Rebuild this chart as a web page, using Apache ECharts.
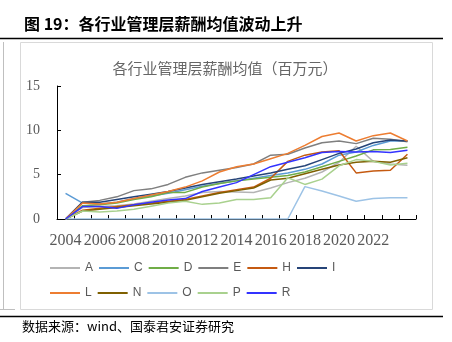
<!DOCTYPE html>
<html>
<head>
<meta charset="utf-8">
<script src="https://cdn.jsdelivr.net/npm/echarts@6/dist/echarts.min.js"></script>
<style>
html,body{margin:0;padding:0;background:#fff;}
#c{width:452px;height:342px;}
</style>
</head>
<body>
<div id="c"></div>
<script>
var years = ['2004','2005','2006','2007','2008','2009','2010','2011','2012','2013','2014','2015','2016','2017','2018','2019','2020','2021','2022','2023','2024'];
var yTicks = [0, 5, 10, 15];
var A = [0,1.3,1.4,1.5,1.7,2.0,2.3,2.6,3.0,3.1,3.05,3.0,3.5,4.1,4.6,5.3,6.4,8.2,6.5,6.2,6.05];
var C = [2.9,1.8,1.7,1.9,2.3,2.6,2.9,3.3,3.7,4.0,4.3,4.6,4.9,5.2,5.6,6.2,7.2,7.55,8.3,8.8,8.8];
var D = [0,1.5,1.6,1.8,2.2,2.5,3.0,3.0,3.6,4.0,4.3,4.5,4.7,4.9,5.3,5.9,6.5,7.1,7.8,7.85,8.1];
var E = [0,1.9,2.1,2.5,3.2,3.4,3.9,4.7,5.2,5.5,5.8,6.2,7.2,7.3,8.0,8.6,8.8,8.5,9.1,9.0,8.7];
var H = [0,1.0,1.2,1.4,1.6,1.8,2.0,2.2,2.6,3.0,3.3,3.6,4.6,6.5,7.2,7.55,7.7,5.2,5.4,5.5,7.3];
var I = [0,1.9,1.9,2.2,2.5,2.8,3.1,3.5,3.9,4.2,4.5,4.85,5.2,5.6,6.0,6.7,7.4,7.9,8.6,8.9,8.8];
var L = [0,1.8,1.7,1.9,2.3,2.7,3.1,3.6,4.3,5.3,5.9,6.2,6.8,7.4,8.3,9.3,9.7,8.8,9.4,9.7,8.8];
var N = [0,0.9,1.1,1.3,1.5,1.7,1.9,2.1,2.5,2.9,3.2,3.5,4.4,4.6,5.1,5.6,6.1,6.4,6.5,6.4,6.9];
var O = [0,0,0,0,0,0,0,0,0,0,0,0,0,0,3.65,3.15,2.6,2.0,2.3,2.4,2.4];
var P = [0,0.9,0.8,0.9,1.1,1.45,1.8,2.0,1.65,1.8,2.2,2.2,2.4,4.65,3.9,4.5,6.0,6.7,6.5,6.1,6.3];
var R = [0,1.4,1.4,1.2,1.6,1.9,2.15,2.3,3.1,3.6,4.1,5.0,5.9,6.4,6.9,7.5,7.6,7.55,7.6,7.5,7.75];

var names = ['A','C','D','E','H','I','L','N','O','P','R'];
var values = [A,C,D,E,H,I,L,N,O,P,R];
var colors = ['#B4B4B4','#5B9BD5','#70AD47','#7F7F7F','#C55A11','#264478','#ED7D31','#7F6000','#9DC3E6','#A9D18E','#3333FF'];

var chart = echarts.init(document.getElementById('c'), null, {renderer:'canvas'});
var series = names.map(function(n, i){
  return {
    name: n, type: 'line', data: values[i], symbol: 'none', smooth: false,
    lineStyle: {color: colors[i], width: 1.5},
    itemStyle: {color: colors[i]},
    z: 2
  };
});
var legendCommon = {
  left: 50, itemWidth: 30, itemHeight: 2, itemGap: 6, orient: 'horizontal',
  icon: 'rect',
  textStyle: {fontFamily: 'Liberation Sans', fontSize: 12, color: '#595959', width: 24, padding:[0,0,0,0]},
  padding: 0
};
chart.setOption({
  animation: false,
  textStyle: {fontFamily: 'Liberation Serif'},
  grid: {left: 57, right: 36, top: 86, bottom: 123, containLabel: false},
  legend: [
    Object.assign({}, legendCommon, {top: 262, data: ['A','C','D','E','H','I']}),
    Object.assign({}, legendCommon, {top: 287, data: ['L','N','O','P','R']})
  ],
  xAxis: {
    type: 'category', data: years, boundaryGap: true,
    axisLine: {show: true, lineStyle: {color: '#000', width: 1}},
    axisTick: {show: true, inside: true, length: 4, interval: 0, lineStyle: {color: '#000'}},
    axisLabel: {interval: 1, margin: 14, fontFamily: 'Liberation Serif', fontSize: 16, color: '#595959',
      formatter: function(v){ return v === '2024' ? '' : v; }},
    splitLine: {show: false}
  },
  yAxis: {
    type: 'value', min: yTicks[0], max: yTicks[yTicks.length-1], interval: 5,
    axisLine: {show: true, lineStyle: {color: '#000', width: 1}},
    axisTick: {show: true, inside: true, length: 4, lineStyle: {color: '#000'}},
    axisLabel: {margin: 17, fontFamily: 'Liberation Serif', fontSize: 14, color: '#595959'},
    splitLine: {show: false}
  },
  graphic: [
    {type: 'text', left: 24, top: 16, style: {text: '图 19：各行业管理层薪酬均值波动上升', font: 'bold 16px "Noto Sans CJK SC"', fill: '#000'}},
    {type: 'line', shape: {x1: 0, y1: 38.5, x2: 443, y2: 38.5}, style: {stroke: '#000', lineWidth: 1.5}},
    {type: 'rect', shape: {x: 20.5, y: 42.5, width: 412, height: 267}, style: {fill: 'none', stroke: '#D9D9D9', lineWidth: 1}, z: -1},
    {type: 'line', shape: {x1: 3.5, y1: 42, x2: 3.5, y2: 309.5}, style: {stroke: '#BFBFBF', lineWidth: 1}},
    {type: 'line', shape: {x1: 0, y1: 309.5, x2: 15, y2: 309.5}, style: {stroke: '#BFBFBF', lineWidth: 1}},
    {type: 'text', x: 225, y: 68, style: {text: '各行业管理层薪酬均值（百万元）', font: '15px "Noto Sans CJK SC"', fill: '#666666', textAlign: 'center', textVerticalAlign: 'middle'}},
    {type: 'line', shape: {x1: 0, y1: 316.5, x2: 443, y2: 316.5}, style: {stroke: '#000', lineWidth: 1.5}},
    {type: 'text', left: 22, top: 320, style: {text: '数据来源：wind、国泰君安证券研究', font: '13px "Noto Sans CJK SC"', fill: '#000'}}
  ],
  series: series
});
</script>
</body>
</html>
